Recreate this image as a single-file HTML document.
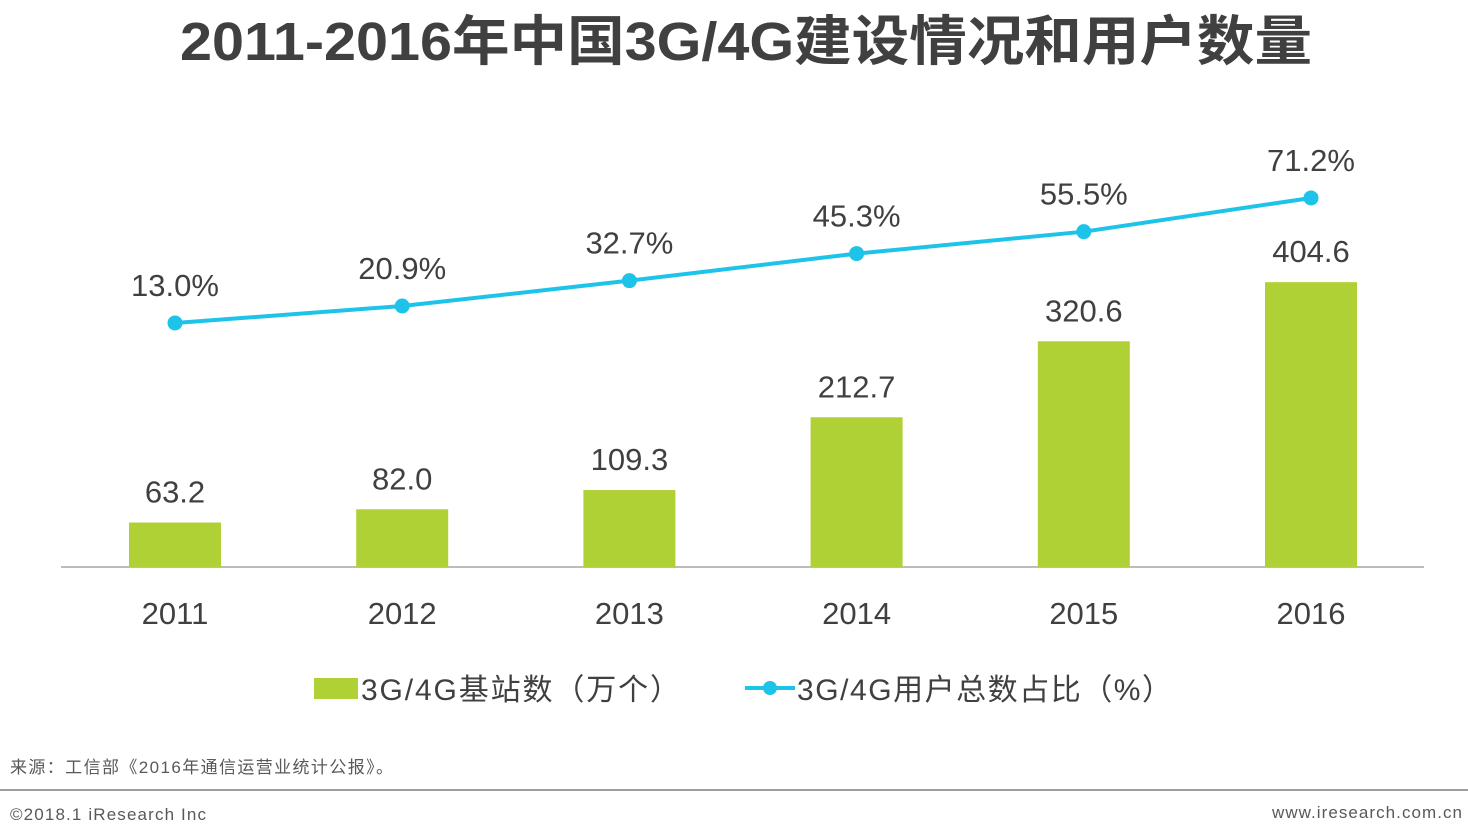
<!DOCTYPE html>
<html><head><meta charset="utf-8"><style>
body{margin:0;background:#fff;width:1468px;height:831px;overflow:hidden}
svg text{font-family:"Liberation Sans","Noto Sans CJK SC",sans-serif}
</style></head><body>
<svg id="c" width="1468" height="831">
<text x="180" y="60" font-size="54" font-weight="bold" fill="#404040" textLength="1132" lengthAdjust="spacingAndGlyphs">2011-2016年中国3G/4G建设情况和用户数量</text>
<line x1="61" y1="567" x2="1424" y2="567" stroke="#a6a6a6" stroke-width="1.5"/>
<g id="bars"></g><g id="line"></g><g id="xl"></g>
<rect x="314" y="678" width="44" height="21" fill="#b0d136"/>
<text x="361" y="700" font-size="30" fill="#404040" textLength="319" lengthAdjust="spacing">3G/4G基站数（万个）</text>
<line x1="745" y1="688" x2="795" y2="688" stroke="#1ec3ea" stroke-width="4"/>
<circle cx="770" cy="688" r="7" fill="#1ec3ea"/>
<text x="797" y="700" font-size="30" fill="#404040" textLength="375" lengthAdjust="spacing">3G/4G用户总数占比（%）</text>
<text x="10" y="773" font-size="17" fill="#595959" textLength="383" lengthAdjust="spacing">来源：工信部《2016年通信运营业统计公报》。</text>
<line x1="0" y1="790" x2="1468" y2="790" stroke="#7f7f7f" stroke-width="1.5"/>
<text x="10" y="820" font-size="17" fill="#595959" textLength="196" lengthAdjust="spacing">©2018.1 iResearch Inc</text>
<text x="1272" y="818" font-size="17" fill="#595959" textLength="190" lengthAdjust="spacing">www.iresearch.com.cn</text>
</svg>
<script>
const categories=["2011","2012","2013","2014","2015","2016"];
const stations=[63.2,82.0,109.3,212.7,320.6,404.6];
const stationLabels=["63.2","82.0","109.3","212.7","320.6","404.6"];
const userShare=[13.0,20.9,32.7,45.3,55.5,71.2];
const shareLabels=["13.0%","20.9%","32.7%","45.3%","55.5%","71.2%"];
const NS="http://www.w3.org/2000/svg";
const xC=i=>175+i*227.2;
const yB=v=>567-v*0.704;
const yL=v=>350.9-v*2.148;
function mk(t,a,p,txt){const e=document.createElementNS(NS,t);for(const k in a)e.setAttribute(k,a[k]);if(txt!==undefined)e.textContent=txt;p.appendChild(e);return e;}
const gb=document.getElementById('bars'),gl=document.getElementById('line'),gx=document.getElementById('xl');
categories.forEach((c,i)=>{
 const r=mk('rect',{x:xC(i)-46,y:yB(stations[i]),width:92,height:567-yB(stations[i]),fill:'#b0d136'},gb);
 
 
 const t=mk('text',{x:xC(i),y:yB(stations[i])-20,'text-anchor':'middle','font-size':31,fill:'#404040'},gb,stationLabels[i]);
 
 
 const x=mk('text',{x:xC(i),y:624,'text-anchor':'middle','font-size':31,fill:'#404040'},gx,c);
 
 
});
const pl=mk('polyline',{points:userShare.map((v,i)=>xC(i)+','+yL(v)).join(' '),fill:'none',stroke:'#1ec3ea','stroke-width':4},gl);


userShare.forEach((v,i)=>{
 const p=mk('circle',{cx:xC(i),cy:yL(v),r:7.5,fill:'#1ec3ea'},gl);
 
 
 const t=mk('text',{x:xC(i),y:yL(v)-27,'text-anchor':'middle','font-size':31,fill:'#404040'},gl,shareLabels[i]);
 
 
});
</script>
</body></html>
